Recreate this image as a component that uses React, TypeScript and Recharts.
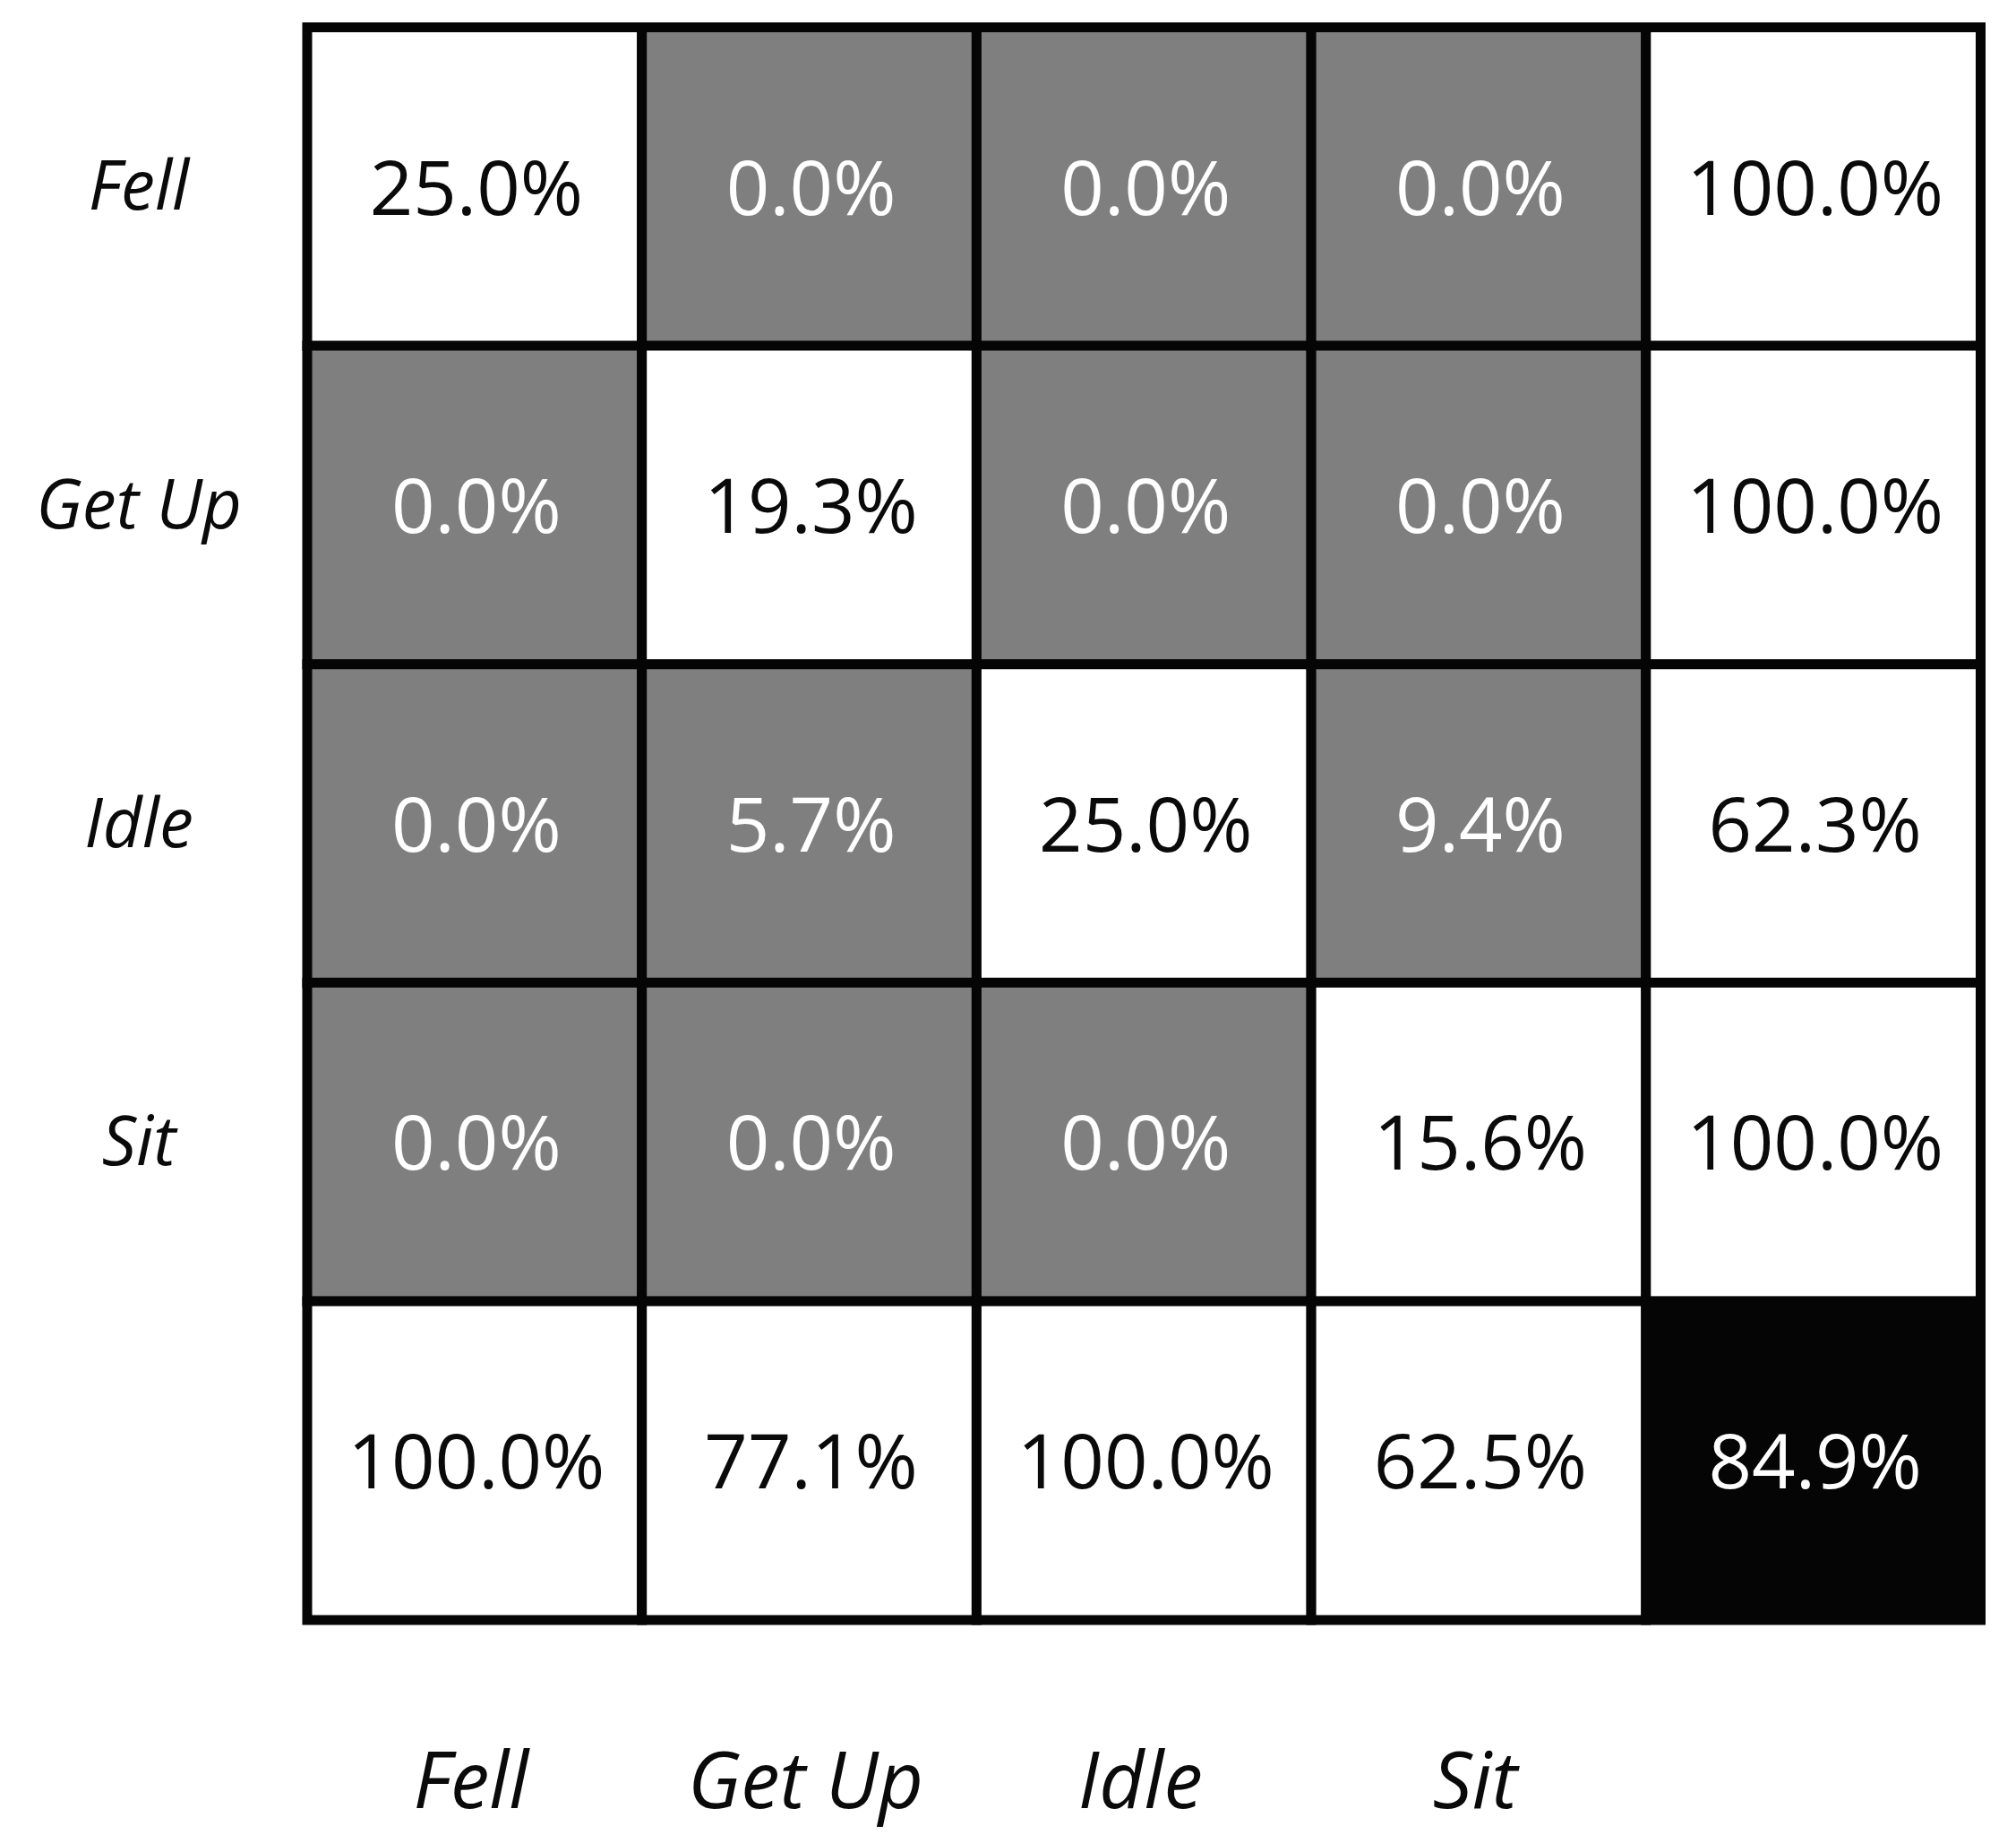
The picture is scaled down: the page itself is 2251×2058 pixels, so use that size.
import React from 'react';
import { BarChart, Bar, XAxis, YAxis, Cell, LabelList } from 'recharts';

// confusion matrix, rows = actual, cols = predicted, last row/col = totals
const rowLabels = ['Fell', 'Get Up', 'Idle', 'Sit', ''];
const colLabels = ['Fell', 'Get Up', 'Idle', 'Sit', ''];
const fellRow = [25.0, 0.0, 0.0, 0.0, 100.0];
const getUpRow = [0.0, 19.3, 0.0, 0.0, 100.0];
const idleRow = [0.0, 5.7, 25.0, 9.4, 62.3];
const sitRow = [0.0, 0.0, 0.0, 15.6, 100.0];
const totalRow = [100.0, 77.1, 100.0, 62.5, 84.9];
const colTicks = [0.5, 1.5, 2.5, 3.5];

const matrix = [fellRow, getUpRow, idleRow, sitRow, totalRow];

const data = rowLabels.map((label, r) => {
  const row: Record<string, any> = { label };
  matrix[r].forEach((v, c) => {
    row[`u${c}`] = 1;
    row[`p${c}`] = `${v.toFixed(1)}%`;
  });
  return row;
});

const FONT = '"Open Sans", "Noto Sans", sans-serif';
const n = rowLabels.length;

const cellFill = (r: number, c: number) => {
  if (r === n - 1 && c === n - 1) return '#050505';
  if (r === c || r === n - 1 || c === n - 1) return '#ffffff';
  return '#7f7f7f';
};
const textFill = (r: number, c: number) => (cellFill(r, c) === '#ffffff' ? '#0a0a0a' : '#ffffff');

const makeLabel = (c: number) => (props: any) => {
  const { x, y, width, height, index, value } = props;
  const cx = Number(x) + Number(width) / 2;
  const cy = Number(y) + Number(height) / 2;
  return (
    <text
      x={cx + 2}
      y={cy + 31}
      textAnchor="middle"
      fontFamily={FONT}
      fontSize={85}
      fill={textFill(index, c)}
    >
      {value}
    </text>
  );
};

const RowTick = (props: any) => {
  const { y, payload } = props;
  return (
    <text x={147} y={y + 26} textAnchor="middle" fontFamily={FONT} fontStyle="italic" fontSize={76} fill="#0a0a0a">
      {payload.value}
    </text>
  );
};

const ColTick = (props: any) => {
  const { x, payload } = props;
  const i = Math.floor(payload.value);
  return (
    <text x={x - 4} y={2011} textAnchor="middle" fontFamily={FONT} fontStyle="italic" fontSize={87} fill="#0a0a0a">
      {colLabels[i]}
    </text>
  );
};

export default function App() {
  return (
    <div style={{ width: 2243, height: 2050, background: '#fff' }}>
      <BarChart
        width={2243}
        height={2050}
        data={data}
        layout="vertical"
        barCategoryGap={0}
        barGap={0}
        margin={{ top: 22.5, right: 39.5, bottom: 9.5, left: 0 }}
      >
        <XAxis
          type="number"
          domain={[0, 5]}
          ticks={colTicks}
          height={240}
          axisLine={false}
          tickLine={false}
          tick={<ColTick />}
          interval={0}
        />
        <YAxis
          type="category"
          dataKey="label"
          width={335}
          axisLine={false}
          tickLine={false}
          tick={<RowTick />}
          interval={0}
        />
        {colLabels.map((_, c) => (
          <Bar key={c} dataKey={`u${c}`} stackId="m" isAnimationActive={false} stroke="#050505" strokeWidth={11}>
            {data.map((_, r) => (
              <Cell key={r} fill={cellFill(r, c)} />
            ))}
            <LabelList dataKey={`p${c}`} content={makeLabel(c)} />
          </Bar>
        ))}
      </BarChart>
    </div>
  );
}
